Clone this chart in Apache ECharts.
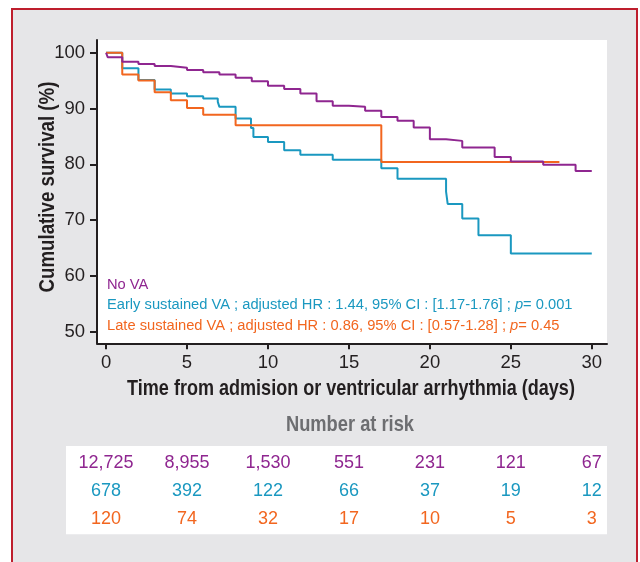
<!DOCTYPE html>
<html>
<head>
<meta charset="utf-8">
<script src="https://cdn.jsdelivr.net/npm/echarts@6/dist/echarts.min.js"></script>
<style>
html,body{margin:0;padding:0;background:#ffffff;width:640px;height:562px;overflow:hidden;}
#frame{position:absolute;left:11px;top:8px;width:627px;height:600px;box-sizing:border-box;border:2px solid #be1e2d;background:#e6e6e8;}
#chart{position:absolute;left:0;top:0;width:640px;height:562px;}
</style>
</head>
<body>
<div id="frame"></div>
<div id="chart"></div>
<script>
// ---- data ----
const tickDays = [0, 5, 10, 15, 20, 25, 30];
const survivalTicks = [50, 60, 70, 80, 90, 100];

const noVATime = [0, 0.1, 1, 2, 3, 4, 5, 6, 7, 8, 9, 10, 11, 12, 13, 14, 15, 16, 17, 18, 19, 20, 21, 22, 24, 25, 27, 29, 30];
const noVASurv = [100, 99.2, 98.4, 98.0, 97.6, 97.3, 96.9, 96.5, 96.1, 95.5, 94.9, 94.1, 93.5, 92.7, 91.3, 90.5, 90.3, 89.6, 88.5, 87.8, 86.6, 84.5, 84.2, 83.0, 81.3, 80.5, 79.9, 78.8, 78.8];

const earlyTime = [0, 1, 2, 3, 4, 5, 6, 6.9, 7, 8, 8.95, 9.1, 10, 11, 12, 14, 17, 18, 21, 21.1, 22, 23, 25, 30];
const earlySurv = [100, 97.2, 95.1, 93.4, 92.7, 92.2, 91.8, 91.2, 90.3, 88.2, 86.5, 84.9, 84.0, 82.5, 81.7, 80.8, 79.3, 77.4, 75.1, 72.9, 70.3, 67.3, 64.0, 64.0];

const lateTime = [0, 1, 2, 3, 4, 5, 6, 8, 17, 28];
const lateSurv = [100, 96.1, 95.0, 92.9, 91.5, 90.1, 88.9, 87.0, 80.4, 80.4];

const riskNoVA = [12725, 8955, 1530, 551, 231, 121, 67];
const riskEarly = [678, 392, 122, 66, 37, 19, 12];
const riskLate = [120, 74, 32, 17, 10, 5, 3];

const seriesNames = ['No VA', 'Early sustained VA', 'Late sustained VA'];

// ---- styles ----
const PURPLE = '#8f2690', TEAL = '#1a98c0', ORANGE = '#f2661f';
const FONT = "'Liberation Sans',Arial,sans-serif";
const INK = '#231f20';
const CONDENSE = 0.82;

function pairs(t, s) { return t.map((x, i) => [x, s[i]]); }
function riskRow(vals, row) { return tickDays.map((d, i) => [d, row, vals[i]]); }

const chart = echarts.init(document.getElementById('chart'), null, {renderer: 'canvas'});

function kmSeries(name, t, s, color) {
  return {
    name: name, type: 'line', step: 'end', xAxisIndex: 0, yAxisIndex: 0,
    data: pairs(t, s), showSymbol: false, symbol: 'none',
    lineStyle: {color: color, width: 2}, itemStyle: {color: color},
    animation: false
  };
}
function riskSeries(vals, row, color) {
  return {
    type: 'scatter', xAxisIndex: 1, yAxisIndex: 1, data: riskRow(vals, row),
    symbolSize: 1, itemStyle: {color: 'rgba(0,0,0,0)', opacity: 1},
    label: {show: true, position: 'inside', color: color, opacity: 1, fontFamily: FONT, fontSize: 18,
      textBorderWidth: 0, textShadowBlur: 0,
      formatter: p => p.value[2].toLocaleString('en-US')},
    animation: false, silent: true
  };
}

const legendFont = 14.7;
const option = {
  backgroundColor: 'transparent',
  animation: false,
  grid: [
    {left: 97, top: 40, width: 510, height: 303.3, show: true, backgroundColor: '#ffffff', borderWidth: 0},
    {left: 66, top: 446, width: 541, height: 88.3, show: true, backgroundColor: '#ffffff', borderWidth: 0}
  ],
  xAxis: [
    {gridIndex: 0, type: 'value', min: -0.56, max: 30.94,
      axisLine: {show: true, onZero: false, lineStyle: {color: INK, width: 2}},
      axisTick: {show: true, customValues: tickDays, length: 6, lineStyle: {color: INK, width: 2}},
      axisLabel: {customValues: tickDays, color: INK, fontFamily: FONT, fontSize: 18.5, margin: 10},
      splitLine: {show: false}},
    {gridIndex: 1, type: 'value', min: -2.477, max: 30.94, show: false}
  ],
  yAxis: [
    {gridIndex: 0, type: 'value', min: 47.92, max: 102.28,
      axisLine: {show: true, onZero: false, lineStyle: {color: INK, width: 2}},
      axisTick: {show: true, customValues: survivalTicks, length: 7, lineStyle: {color: INK, width: 2}},
      axisLabel: {customValues: survivalTicks, color: INK, fontFamily: FONT, fontSize: 18.5, margin: 12},
      splitLine: {show: false}},
    {gridIndex: 1, type: 'value', min: 0.45, max: 3.62, show: false}
  ],
  graphic: [
    {type: 'text', x: 48, y: 187, rotation: Math.PI / 2, scaleX: CONDENSE,
      style: {text: 'Cumulative survival (%)', fill: INK, font: "bold 22.8px " + FONT, textAlign: 'center', textVerticalAlign: 'middle'}},
    {type: 'text', x: 351, y: 389, scaleX: CONDENSE,
      style: {text: 'Time from admision or ventricular arrhythmia (days)', fill: INK, font: "bold 22px " + FONT, textAlign: 'center', textVerticalAlign: 'middle'}},
    {type: 'text', x: 350, y: 425, scaleX: CONDENSE,
      style: {text: 'Number at risk', fill: '#6d6e71', font: "bold 22.3px " + FONT, textAlign: 'center', textVerticalAlign: 'middle'}},
    {type: 'text', x: 107, y: 285,
      style: {text: seriesNames[0], fill: PURPLE, font: legendFont + "px " + FONT, textVerticalAlign: 'middle'}},
    {type: 'text', x: 107, y: 305,
      style: {text: '{a|' + seriesNames[1] + ' ; adjusted HR : 1.44, 95% CI : [1.17-1.76] ; }{i|p}{a|= 0.001}',
        textVerticalAlign: 'middle',
        rich: {a: {fill: TEAL, color: TEAL, fontFamily: FONT, fontSize: legendFont},
               i: {fill: TEAL, color: TEAL, fontFamily: FONT, fontSize: legendFont, fontStyle: 'italic'}}}},
    {type: 'text', x: 107, y: 326,
      style: {text: '{a|' + seriesNames[2] + ' ; adjusted HR : 0.86, 95% CI : [0.57-1.28] ; }{i|p}{a|= 0.45}',
        textVerticalAlign: 'middle',
        rich: {a: {fill: ORANGE, color: ORANGE, fontFamily: FONT, fontSize: legendFont},
               i: {fill: ORANGE, color: ORANGE, fontFamily: FONT, fontSize: legendFont, fontStyle: 'italic'}}}}
  ],
  series: [
    kmSeries(seriesNames[1], earlyTime, earlySurv, TEAL),
    kmSeries(seriesNames[2], lateTime, lateSurv, ORANGE),
    kmSeries(seriesNames[0], noVATime, noVASurv, PURPLE),
    riskSeries(riskNoVA, 3, PURPLE),
    riskSeries(riskEarly, 2, TEAL),
    riskSeries(riskLate, 1, ORANGE)
  ]
};
chart.setOption(option);
</script>
</body>
</html>
